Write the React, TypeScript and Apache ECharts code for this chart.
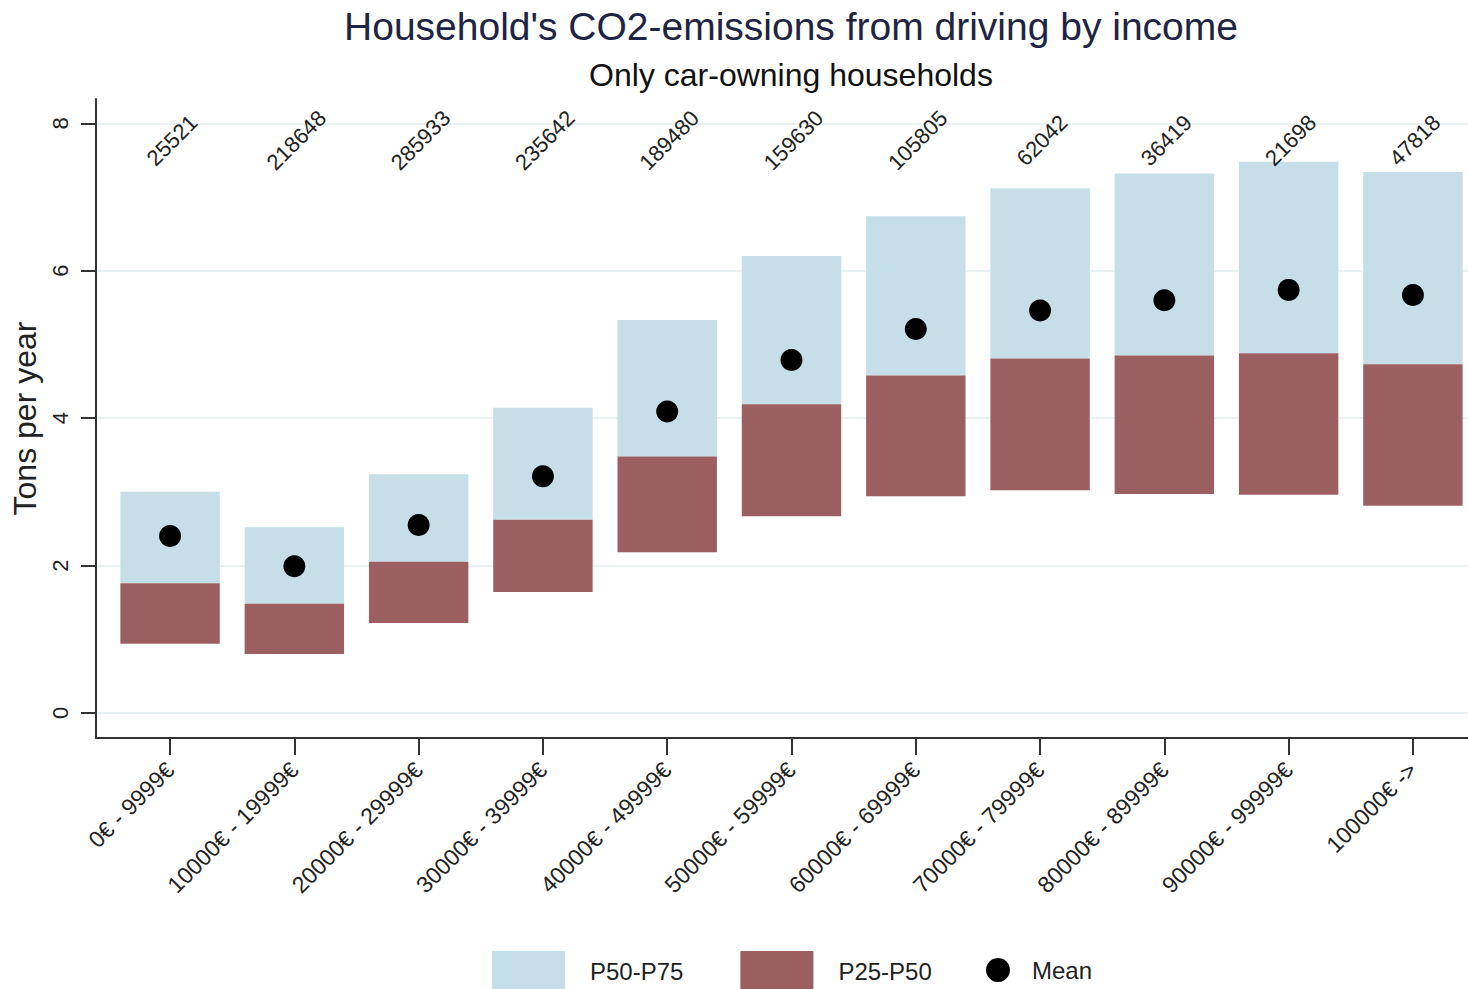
import React, { useEffect, useRef } from "react";
import * as echarts from "echarts";

// Income brackets (household income per year)
const CATEGORIES = [
  "0€ - 9999€",
  "10000€ - 19999€",
  "20000€ - 29999€",
  "30000€ - 39999€",
  "40000€ - 49999€",
  "50000€ - 59999€",
  "60000€ - 69999€",
  "70000€ - 79999€",
  "80000€ - 89999€",
  "90000€ - 99999€",
  "100000€ ->",
];

// Number of households in each bracket
const COUNTS = [25521, 218648, 285933, 235642, 189480, 159630, 105805, 62042, 36419, 21698, 47818];

// Percentiles of yearly CO2 emissions from driving (tons)
const P25 = [0.94, 0.8, 1.22, 1.64, 2.18, 2.67, 2.94, 3.02, 2.97, 2.96, 2.81];
const P50 = [1.76, 1.48, 2.05, 2.62, 3.48, 4.19, 4.58, 4.81, 4.85, 4.88, 4.73];
const P75 = [3.0, 2.52, 3.24, 4.14, 5.33, 6.2, 6.74, 7.12, 7.32, 7.48, 7.34];
const MEAN = [2.4, 1.99, 2.55, 3.21, 4.09, 4.79, 5.21, 5.46, 5.6, 5.74, 5.67];

const Y_TICKS = [0, 2, 4, 6, 8];
const X_TICKS = CATEGORIES.map((_, i) => i + 1);

const FONT = "'Liberation Sans', Arial, Helvetica, sans-serif";
const BLUE = "#c5dee8";
const RED = "#9c5f61";
const AXIS = "#333333";
const GRID = "#e9f1f3";
const TEXT = "#222222";
const BOX_WIDTH = 0.8; // in category units

function boxRenderer(color: string) {
  return (params: any, api: any) => {
    const x = api.value(0);
    const top = api.coord([x, api.value(2)]);
    const bottom = api.coord([x, api.value(1)]);
    const w = api.size([BOX_WIDTH, 0])[0];
    return {
      type: "rect",
      shape: { x: top[0] - w / 2, y: top[1], width: w, height: bottom[1] - top[1] },
      style: { fill: color },
    };
  };
}

export default function App() {
  const ref = useRef<HTMLDivElement>(null);

  useEffect(() => {
    if (!ref.current) return;
    const chart = echarts.init(ref.current, null, { renderer: "svg" });

    const upperBoxes = X_TICKS.map((x, i) => [x, P50[i], P75[i]]);
    const lowerBoxes = X_TICKS.map((x, i) => [x, P25[i], P50[i]]);
    const means = X_TICKS.map((x, i) => [x, MEAN[i]]);
    const countLabels = X_TICKS.map((x, i) => [x, 8, COUNTS[i]]);

    chart.setOption({
      animation: false,
      backgroundColor: "#ffffff",
      textStyle: { fontFamily: FONT },
      title: [
        {
          text: "Household's CO2-emissions from driving by income",
          left: "center",
          top: 2,
          textStyle: { fontFamily: FONT, fontSize: 39, fontWeight: "normal", color: "#1e2443" },
        },
        {
          text: "Only car-owning households",
          left: "center",
          top: 54,
          textStyle: { fontFamily: FONT, fontSize: 32, fontWeight: "normal", color: "#111111" },
        },
      ],
      legend: [
        {
          data: ["P50-P75", "P25-P50"],
          left: 492,
          top: 951,
          padding: 0,
          itemWidth: 73,
          itemHeight: 40,
          itemGap: 57,
          icon: "rect",
          textStyle: { fontFamily: FONT, fontSize: 24, color: TEXT, padding: [0, 0, 0, 20] },
        },
        {
          data: ["Mean"],
          left: 986,
          top: 958,
          padding: 0,
          itemWidth: 24,
          itemHeight: 24,
          icon: "circle",
          textStyle: { fontFamily: FONT, fontSize: 24, color: TEXT, padding: [0, 0, 0, 17] },
        },
      ],
      grid: { left: 96, right: 95, top: 99, bottom: 251 },
      xAxis: {
        type: "value",
        min: 0.404,
        max: 11.596,
        axisLine: { onZero: false, lineStyle: { color: AXIS, width: 2 } },
        axisTick: { customValues: X_TICKS, length: 17, lineStyle: { color: AXIS, width: 2 } },
        axisLabel: {
          customValues: X_TICKS,
          rotate: 45,
          margin: 28,
          fontSize: 23,
          color: TEXT,
          fontFamily: FONT,
          formatter: (v: number) => CATEGORIES[Math.round(v) - 1] ?? "",
        },
        splitLine: { show: false },
      },
      yAxis: {
        type: "value",
        min: -0.34,
        max: 8.33,
        name: "Tons per year",
        nameLocation: "middle",
        nameGap: 52,
        nameTextStyle: { fontFamily: FONT, fontSize: 32, color: TEXT },
        axisLine: { show: true, lineStyle: { color: AXIS, width: 2 } },
        axisTick: { show: true, customValues: Y_TICKS, length: 15, lineStyle: { color: AXIS, width: 2 } },
        axisLabel: {
          customValues: Y_TICKS,
          rotate: 90,
          margin: 25,
          fontSize: 22,
          color: TEXT,
          fontFamily: FONT,
        },
        splitLine: { show: true, lineStyle: { color: GRID, width: 2 } },
      },
      series: [
        {
          name: "P50-P75",
          type: "custom",
          renderItem: boxRenderer(BLUE),
          itemStyle: { color: BLUE },
          encode: { x: 0, y: [1, 2] },
          data: upperBoxes,
          z: 2,
        },
        {
          name: "P25-P50",
          type: "custom",
          renderItem: boxRenderer(RED),
          itemStyle: { color: RED },
          encode: { x: 0, y: [1, 2] },
          data: lowerBoxes,
          z: 2,
        },
        {
          name: "Mean",
          type: "scatter",
          symbol: "circle",
          symbolSize: 22,
          itemStyle: { color: "#000000", opacity: 1 },
          data: means,
          z: 3,
        },
        {
          name: "Households",
          type: "custom",
          renderItem: (params: any, api: any) => {
            const p = api.coord([api.value(0), api.value(1)]);
            return {
              type: "text",
              x: p[0] + 2,
              y: p[1] + 17,
              rotation: Math.PI / 4,
              style: {
                text: String(api.value(2)),
                fontFamily: FONT,
                fontSize: 22,
                fill: TEXT,
                align: "center",
                verticalAlign: "middle",
              },
            };
          },
          encode: { x: 0, y: 1 },
          data: countLabels,
          z: 4,
        },
      ],
    });

    return () => chart.dispose();
  }, []);

  return (
    <div style={{ position: "fixed", left: 0, top: 0, width: 1468, height: 989, overflow: "hidden", background: "#fff" }}>
      <div ref={ref} style={{ width: 1582, height: 989 }} />
    </div>
  );
}
